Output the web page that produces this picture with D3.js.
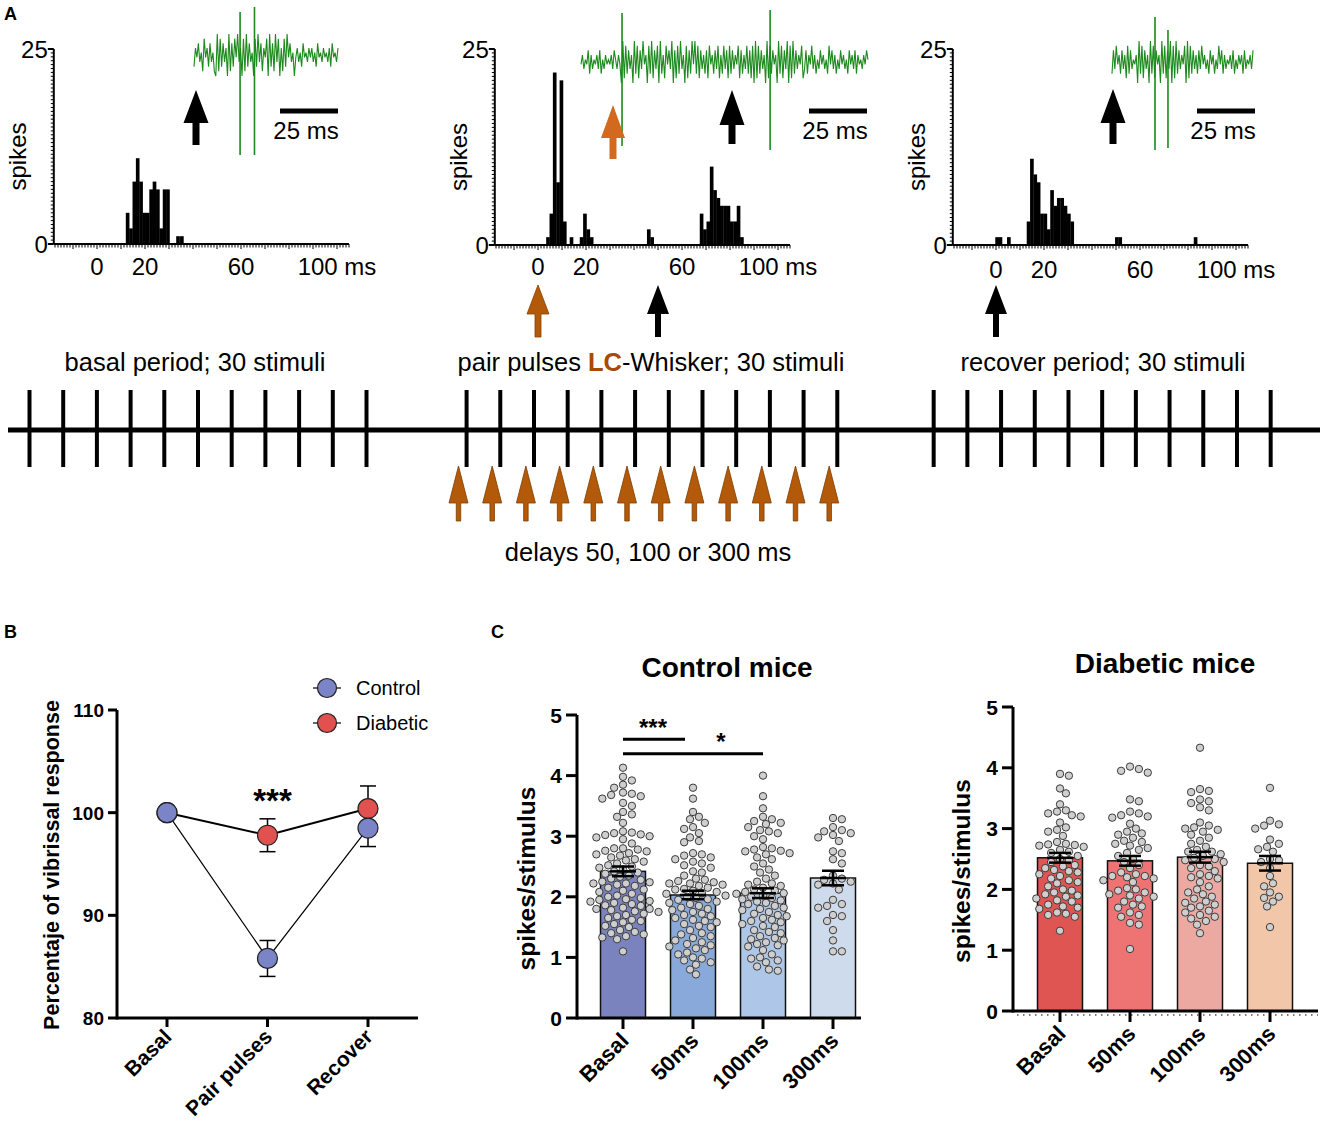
<!DOCTYPE html>
<html><head><meta charset="utf-8">
<script src="https://cdn.jsdelivr.net/npm/d3@7"></script>
<style>body{margin:0;background:#fff}svg{display:block}text{font-family:"Liberation Sans",Arial,sans-serif}</style>
</head><body>
<script>
// ---------------- DATA ----------------
// Panel A: PSTH bins [start ms, count], bin width 1.4 ms
const binWidth = 1.4;
const hist1Bins = [[12.0,4],[13.4,2],[14.8,8],[16.2,11],[17.6,8],[19.0,4],[20.4,4],[21.8,7],[23.2,8],[24.6,7],[26.0,2],[27.4,7],[28.8,7],[33.0,1],[34.6,1]];
const hist2Bins = [[3.4,1],[4.8,4],[6.2,22],[7.6,8],[9.0,21],[10.4,3],[13.2,1],[17.4,1],[18.8,4],[20.2,2],[21.6,1],[45.4,2],[46.8,1],[67.4,4],[68.8,2],[70.2,3],[71.6,10],[73.0,7],[74.4,6],[75.8,5],[77.2,5],[78.6,5],[80.0,3],[81.4,3],[82.8,5],[84.2,1]];
const hist3Bins = [[-0.3,1],[1.1,1],[4.6,1],[12.8,3],[14.2,11],[15.6,9],[17.0,8],[18.4,4],[19.8,4],[21.2,2],[22.6,7],[24.0,5],[25.4,6],[26.8,6],[28.2,5],[29.6,4],[31.0,3],[49.6,1],[51.0,1],[82.4,1]];
const histXTicks = [0, 20, 60, 100];
const histXTickLabels = ["0", "20", "60", "100 ms"];
const histYTicks = [0, 25];
// example raw traces (digit-coded amplitude samples) and spikes [position fraction, up px, down px]
const trace1 = "264735184627351" + "0918273609172849360819273508293716480927193806182947350" + "463527453646352745364536274536";
const trace2 = "4635472635463725364546375364" + "0918273609281739460829173809261847390718293608172949" + "2817362718462738162837182736481726382718" + "09182736091827460928173908192736481" + "372648362537463528473625374635274637264536475";
const trace3 = "273846273618273546" + "0928173609281746092817390819273648091827" + "362738463527462538472635463725364627354637";
const spikes1 = [[0.32,43,100],[0.42,48,100]];
const spikes2 = [[0.143,49,84],[0.659,52,88]];
const spikes3 = [[0.305,45,88],[0.397,32,86]];
const periodLabels = ["basal period; 30 stimuli", "recover period; 30 stimuli"];
const delayLabel = "delays 50, 100 or 300 ms";
// stimulus train groups (slot units)
const stimGroups = [{start:0, n:11}, {start:12.97, n:12}, {start:26.83, n:11}];

// Panel B
const phases = ["Basal", "Pair pulses", "Recover"];
const controlPct = [100, 85.8, 98.5];
const controlErr = [0, 1.75, 1.8];
const diabeticPct = [100, 97.8, 100.4];
const diabeticErr = [0, 1.6, 2.2];
const pctTicks = [80, 90, 100, 110];

// Panel C
const conditions = ["Basal", "50ms", "100ms", "300ms"];
const controlMeans = [2.42, 2.03, 2.06, 2.31];
const controlSem = [0.08, 0.07, 0.08, 0.12];
const diabeticMeans = [2.52, 2.47, 2.53, 2.43];
const diabeticSem = [0.08, 0.08, 0.09, 0.12];
const spsTicks = [0, 1, 2, 3, 4, 5];
const ctrlBasalPts = [4.13,3.98,3.92,3.85,3.80,3.72,3.70,3.68,3.66,3.62,3.55,3.50,3.40,3.36,3.32,3.22,3.08,3.06,3.05,3.03,3.02,3.00,2.98,2.95,2.88,2.80,2.80,2.78,2.76,2.75,2.72,2.70,2.68,2.65,2.60,2.55,2.52,2.50,2.45,2.40,2.38,2.35,2.30,2.28,2.25,2.24,2.22,2.22,2.20,2.18,2.15,2.12,2.10,2.08,2.05,2.02,2.00,1.98,1.96,1.95,1.92,1.90,1.88,1.86,1.85,1.82,1.80,1.80,1.78,1.75,1.72,1.70,1.68,1.65,1.62,1.60,1.58,1.55,1.52,1.50,1.45,1.42,1.40,1.38,1.35,1.33,1.30,1.10,2.62,2.58,2.48,2.42,2.33,1.93,1.76];
const ctrl50Pts = [3.80,3.62,3.40,3.32,3.28,3.22,3.15,3.12,3.05,2.98,2.92,2.90,2.72,2.70,2.68,2.65,2.62,2.58,2.52,2.48,2.42,2.35,2.30,2.28,2.26,2.24,2.22,2.22,2.20,2.18,2.15,2.13,2.12,2.10,2.08,2.06,2.05,2.02,2.00,1.98,1.96,1.92,1.90,1.88,1.85,1.82,1.80,1.78,1.75,1.72,1.70,1.68,1.65,1.62,1.60,1.58,1.55,1.50,1.45,1.40,1.35,1.32,1.28,1.25,1.22,1.20,1.18,1.12,1.08,1.05,1.00,0.95,0.92,0.88,0.80,0.72,2.55,2.40,1.95,1.52,1.38,1.15,0.98];
const ctrl100Pts = [4.00,3.66,3.46,3.32,3.28,3.25,3.22,3.20,3.15,3.10,3.08,3.05,3.00,2.95,2.82,2.80,2.78,2.76,2.75,2.72,2.70,2.62,2.55,2.50,2.45,2.35,2.30,2.25,2.22,2.20,2.18,2.15,2.12,2.10,2.08,2.06,2.05,2.02,2.00,1.98,1.96,1.94,1.92,1.88,1.85,1.82,1.80,1.78,1.75,1.72,1.70,1.65,1.62,1.60,1.58,1.55,1.52,1.50,1.45,1.40,1.35,1.32,1.30,1.28,1.22,1.20,1.18,1.12,1.05,1.00,0.98,0.95,0.92,0.85,0.80,0.78,2.65,2.40,1.90,1.68,1.42,1.25];
const ctrl300Pts = [3.30,3.28,3.15,3.10,3.08,3.05,3.02,2.98,2.92,2.75,2.72,2.62,2.55,2.35,2.30,2.28,2.22,2.20,2.12,1.95,1.88,1.85,1.82,1.70,1.68,1.60,1.45,1.28,1.10,1.10,2.25];
const diabBasalPts = [3.90,3.87,3.66,3.58,3.40,3.30,3.28,3.25,3.22,3.20,3.10,3.02,2.98,2.95,2.88,2.78,2.75,2.74,2.73,2.72,2.70,2.65,2.62,2.55,2.50,2.45,2.40,2.38,2.35,2.32,2.28,2.25,2.22,2.18,2.15,2.10,2.05,2.00,1.98,1.95,1.92,1.88,1.85,1.82,1.80,1.75,1.72,1.68,1.62,1.60,1.58,1.55,1.32,2.60,2.48,2.30,2.12,1.90,1.70];
const diab50Pts = [4.02,3.98,3.95,3.92,3.48,3.45,3.28,3.25,3.22,3.20,3.18,3.08,3.00,2.95,2.92,2.90,2.85,2.80,2.78,2.75,2.72,2.68,2.65,2.60,2.55,2.50,2.45,2.40,2.28,2.25,2.22,2.22,2.20,2.18,2.15,2.02,2.00,1.98,1.95,1.92,1.90,1.88,1.85,1.80,1.75,1.72,1.70,1.58,1.55,1.45,1.42,1.02,2.35,2.12,1.62];
const diab100Pts = [4.33,3.65,3.62,3.60,3.48,3.45,3.42,3.35,3.30,3.10,3.05,3.02,3.00,2.98,2.95,2.90,2.85,2.80,2.75,2.70,2.65,2.62,2.58,2.55,2.52,2.50,2.48,2.45,2.40,2.35,2.30,2.25,2.22,2.20,2.18,2.12,2.05,2.00,1.95,1.92,1.85,1.80,1.78,1.75,1.72,1.70,1.65,1.58,1.55,1.52,1.48,1.42,1.28,2.62,2.38,1.88,1.62];
const diab300Pts = [3.67,3.13,3.07,3.05,3.00,2.82,2.75,2.70,2.66,2.62,2.50,2.48,2.45,2.35,2.22,2.10,2.05,1.95,1.88,1.86,1.80,1.72,1.38];

// ---------------- DRAW ----------------
const W = 1325, H = 1130;
const svg = d3.select("body").append("svg").attr("width", W).attr("height", H);
const AF = 24; // panel A font size

function arrowPath(cx, top, hb, bottom, hw, sw) {
  return `M${cx},${top}L${cx+hw/2},${hb}L${cx+sw/2},${hb}L${cx+sw/2},${bottom}L${cx-sw/2},${bottom}L${cx-sw/2},${hb}L${cx-hw/2},${hb}Z`;
}

// panel letters
[["A",4,20],["B",4,638],["C",491,638]].forEach(([t,x,y]) =>
  svg.append("text").attr("x",x).attr("y",y).attr("font-size",18).attr("font-weight","bold").text(t));

// ---- Histograms ----
function drawHist(cfg) {
  const g = svg.append("g");
  const x = d3.scaleLinear().domain([-18, 105]).range([cfg.axisX, cfg.axisX + 2.4*123]);
  const y = d3.scaleLinear().domain([0, 25]).range([cfg.y0, cfg.y25]);
  g.selectAll("rect.bar").data(cfg.bins).join("rect")
    .attr("x", d => x(d[0])).attr("width", x(binWidth) - x(0) + 0.3)
    .attr("y", d => y(d[1])).attr("height", d => y(0) - y(d[1])).attr("fill", "#000");
  g.append("line").attr("x1", x(-18)).attr("x2", x(105)).attr("y1", y(0)).attr("y2", y(0)).attr("stroke","#000").attr("stroke-width",2);
  const minor = d3.range(-17.5, 105.01, 1.25);
  g.selectAll("line.xt").data(minor).join("line")
    .attr("x1", d => x(d)).attr("x2", d => x(d)).attr("y1", y(0)).attr("y2", d => y(0) + (Math.abs(d % 10) < 0.01 ? 5 : 3.5))
    .attr("stroke","#000").attr("stroke-width",1);
  g.selectAll("text.xl").data(histXTicks).join("text")
    .attr("x", d => x(d)).attr("y", cfg.y0 + cfg.labOff).attr("text-anchor","middle").attr("font-size",AF)
    .text((d,i) => histXTickLabels[i]);
  g.append("line").attr("x1", cfg.axisX).attr("x2", cfg.axisX).attr("y1", y(0)).attr("y2", y(25)).attr("stroke","#000").attr("stroke-width",2);
  const yminor = d3.range(0, 25.01, 0.5);
  g.selectAll("line.yt").data(yminor).join("line")
    .attr("x1", cfg.axisX).attr("x2", d => cfg.axisX - (d===0||d===25 ? 6 : 3)).attr("y1", d => y(d)).attr("y2", d => y(d))
    .attr("stroke","#000").attr("stroke-width", d => (d===0||d===25) ? 2 : 1);
  g.selectAll("text.yl").data(histYTicks).join("text")
    .attr("x", cfg.axisX - 6).attr("y", d => y(d) + 8.5).attr("text-anchor","end").attr("font-size",AF).text(d => d);
  g.append("text").attr("transform", `translate(${cfg.axisX - 28},${(y(0)+y(25))/2 + 10}) rotate(-90)`)
    .attr("text-anchor","middle").attr("font-size",AF).text("spikes");
  // trace
  const vals = cfg.trace.split("").map(Number);
  const tx = d3.scaleLinear().domain([0, vals.length - 1]).range([cfg.trX0, cfg.trX1]);
  const ty = d3.scaleLinear().domain([0, 9]).range([cfg.trY + 21, cfg.trY - 21]);
  g.append("path").attr("d", d3.line().x((d,i) => tx(i)).y(d => ty(d))(vals))
    .attr("fill","none").attr("stroke","#1c8a1c").attr("stroke-width",1.1);
  const fx = d3.scaleLinear().domain([0,1]).range([cfg.trX0, cfg.trX1]);
  g.selectAll("line.sp").data(cfg.spikes).join("line")
    .attr("x1", d => fx(d[0])).attr("x2", d => fx(d[0])).attr("y1", d => cfg.trY - d[1]).attr("y2", d => cfg.trY + d[2])
    .attr("stroke","#1c8a1c").attr("stroke-width",1.6);
  // scale bar
  g.append("rect").attr("x", cfg.sbX).attr("y", 108.5).attr("width", 58).attr("height", 5).attr("fill","#000");
  g.append("text").attr("x", cfg.sbX + 26).attr("y", 139).attr("text-anchor","middle").attr("font-size",AF).text("25 ms");
  return x;
}

const hx1 = drawHist({bins: hist1Bins, axisX: 53.8, y0: 244, y25: 49, labOff: 31, trace: trace1, spikes: spikes1, trX0: 194, trX1: 338, trY: 55, sbX: 280});
const hx2 = drawHist({bins: hist2Bins, axisX: 494.8, y0: 245, y25: 49, labOff: 30, trace: trace2, spikes: spikes2, trX0: 581, trX1: 868, trY: 62, sbX: 809});
const hx3 = drawHist({bins: hist3Bins, axisX: 952.8, y0: 245, y25: 49, labOff: 33, trace: trace3, spikes: spikes3, trX0: 1112, trX1: 1253, trY: 62, sbX: 1197});

svg.append("path").attr("d", arrowPath(196, 90, 123, 145, 25, 7)).attr("fill","#000");
svg.append("path").attr("d", arrowPath(613, 105, 138, 159, 24, 7)).attr("fill","#d2691e");
svg.append("path").attr("d", arrowPath(732, 90, 125, 144, 25, 7)).attr("fill","#000");
svg.append("path").attr("d", arrowPath(1113, 89, 123, 144, 25, 7)).attr("fill","#000");
svg.append("path").attr("d", arrowPath(hx2(0), 285, 314, 337, 22, 6)).attr("fill","#b35a0a").attr("stroke","#8a4000").attr("stroke-width",0.8);
svg.append("path").attr("d", arrowPath(hx2(50), 285, 314, 337, 22, 6)).attr("fill","#000");
svg.append("path").attr("d", arrowPath(hx3(0), 285, 314, 337, 22, 6)).attr("fill","#000");

// ---- Timeline ----
const TF = 25.5;
const tl = d3.scaleLinear().domain([0, 1]).range([29.5, 63.2]);
svg.append("text").attr("x", 195).attr("y", 371).attr("text-anchor","middle").attr("font-size",TF).text(periodLabels[0]);
const mid = svg.append("text").attr("x", 651).attr("y", 371).attr("text-anchor","middle").attr("font-size",TF);
mid.append("tspan").text("pair pulses ");
mid.append("tspan").attr("font-weight","bold").attr("fill","#a84a08").text("LC");
mid.append("tspan").text("-Whisker; 30 stimuli");
svg.append("text").attr("x", 1103).attr("y", 371).attr("text-anchor","middle").attr("font-size",TF).text(periodLabels[1]);
svg.append("line").attr("x1", 8).attr("x2", 1320).attr("y1", 430).attr("y2", 430).attr("stroke","#000").attr("stroke-width",5);
stimGroups.forEach((grp, gi) => {
  const slots = d3.range(grp.n).map(i => grp.start + i);
  svg.selectAll(null).data(slots).join("line")
    .attr("x1", d => tl(d)).attr("x2", d => tl(d)).attr("y1", 390).attr("y2", 467)
    .attr("stroke","#000").attr("stroke-width",4);
  if (gi === 1) {
    svg.selectAll(null).data(slots).join("path")
      .attr("d", d => arrowPath(tl(d - 0.24), 466, 503, 521, 19, 4.5))
      .attr("fill","#b35a0a").attr("stroke","#7d3c00").attr("stroke-width",0.8);
  }
});
svg.append("text").attr("x", 648).attr("y", 561).attr("text-anchor","middle").attr("font-size",TF).text(delayLabel);

// ---- Panel B ----
(function(){
  const g = svg.append("g");
  const x = d3.scalePoint().domain(phases).range([167, 368]);
  const y = d3.scaleLinear().domain([80, 110]).range([1018, 710]);
  g.append("line").attr("x1",117).attr("x2",117).attr("y1",y(110)).attr("y2",y(80)+1.5).attr("stroke","#000").attr("stroke-width",3);
  g.append("line").attr("x1",117).attr("x2",418).attr("y1",y(80)).attr("y2",y(80)).attr("stroke","#000").attr("stroke-width",3);
  g.selectAll("line.yt").data(pctTicks).join("line").attr("x1",108).attr("x2",117).attr("y1",d=>y(d)).attr("y2",d=>y(d)).attr("stroke","#000").attr("stroke-width",3);
  g.selectAll("text.yl").data(pctTicks).join("text").attr("x",104).attr("y",d=>y(d)+7).attr("text-anchor","end")
    .attr("font-size",19).attr("font-weight","bold").text(d=>d);
  g.selectAll("line.xt").data(phases).join("line").attr("x1",d=>x(d)).attr("x2",d=>x(d)).attr("y1",y(80)).attr("y2",y(80)+9).attr("stroke","#000").attr("stroke-width",3);
  g.selectAll("text.xl").data(phases).join("text")
    .attr("transform", d => `translate(${x(d)+6},${y(80)+20}) rotate(-45)`)
    .attr("text-anchor","end").attr("font-size",21).attr("font-weight","bold").text(d=>d);
  g.append("text").attr("transform", `translate(59,865) rotate(-90)`).attr("text-anchor","middle")
    .attr("font-size",21.5).attr("font-weight","bold").text("Percentaje of vibrissal response");
  const series = [
    {vals: controlPct, err: controlErr, col: "#7b84c6", lw: 1.2},
    {vals: diabeticPct, err: diabeticErr, col: "#e0514f", lw: 2}
  ];
  series.forEach(s => {
    s.vals.forEach((v, i) => {
      if (!s.err[i]) return;
      const cx = x(phases[i]);
      g.append("line").attr("x1",cx).attr("x2",cx).attr("y1",y(v - s.err[i])).attr("y2",y(v + s.err[i])).attr("stroke","#000").attr("stroke-width",1.5);
      [v - s.err[i], v + s.err[i]].forEach(e => g.append("line").attr("x1",cx-8).attr("x2",cx+8).attr("y1",y(e)).attr("y2",y(e)).attr("stroke","#000").attr("stroke-width",1.5));
    });
  });
  series.forEach(s => {
    g.append("path").attr("d", d3.line().x((d,i)=>x(phases[i])).y(d=>y(d))(s.vals)).attr("fill","none").attr("stroke","#000").attr("stroke-width",s.lw);
  });
  [series[1], series[0]].forEach(s => {
    g.selectAll(null).data(s.vals).join("circle").attr("cx",(d,i)=>x(phases[i])).attr("cy",d=>y(d)).attr("r",10)
      .attr("fill",s.col).attr("stroke","#222").attr("stroke-width",1.2);
  });
  g.append("text").attr("x", x("Pair pulses")+5).attr("y", 812).attr("text-anchor","middle").attr("font-size",33).attr("font-weight","bold").text("***");
  [["Control",688,series[0].col],["Diabetic",723,series[1].col]].forEach(([t,ly,c]) => {
    g.append("line").attr("x1",313).attr("x2",341).attr("y1",ly).attr("y2",ly).attr("stroke","#000").attr("stroke-width",1.2);
    g.append("circle").attr("cx",327).attr("cy",ly).attr("r",9.5).attr("fill",c).attr("stroke","#222").attr("stroke-width",1.2);
    g.append("text").attr("x",356).attr("y",ly+7).attr("font-size",20).text(t);
  });
})();

// ---- Panel C ----
function swarm(values, cx, yScale, r) {
  const pts = values.map(v => ({v, y: yScale(v)})).sort((a,b) => a.y - b.y);
  const placed = [];
  const step = r * 0.8;
  pts.forEach(p => {
    for (let k = 0; k < 200; k++) {
      const off = k === 0 ? 0 : Math.ceil(k/2) * step * (k % 2 ? 1 : -1);
      if (placed.every(q => (q.dx - off)**2 + (q.y - p.y)**2 >= (2*r)**2)) { p.dx = off; break; }
    }
    placed.push(p);
  });
  return pts.map(p => ({x: cx + p.dx, y: p.y}));
}

function drawBarPanel(cfg) {
  const g = svg.append("g");
  const x = d3.scalePoint().domain(conditions).range([cfg.x0, cfg.x3]);
  const y = d3.scaleLinear().domain([0,5]).range([cfg.yb, cfg.yt]);
  const bw = 45;
  g.selectAll("rect").data(cfg.means).join("rect")
    .attr("x",(d,i)=>x(conditions[i])-bw/2).attr("width",bw).attr("y",d=>y(d)).attr("height",d=>y(0)-y(d))
    .attr("fill",(d,i)=>cfg.colors[i]).attr("stroke","#111").attr("stroke-width",1.5);
  cfg.pts.forEach((arr,i) => {
    const s = swarm(arr, x(conditions[i]), y, 3.7);
    g.selectAll(null).data(s).join("circle").attr("cx",d=>d.x).attr("cy",d=>d.y).attr("r",3.7)
      .attr("fill","#cfcfcf").attr("stroke","#3a3a3a").attr("stroke-width",1);
  });
  cfg.means.forEach((m,i) => {
    const cx = x(conditions[i]); const e = cfg.sem[i];
    g.append("line").attr("x1",cx).attr("x2",cx).attr("y1",y(m-e)).attr("y2",y(m+e)).attr("stroke","#000").attr("stroke-width",2.5);
    [m-e, m, m+e].forEach(v => g.append("line").attr("x1",cx-(v===m?13:11)).attr("x2",cx+(v===m?13:11)).attr("y1",y(v)).attr("y2",y(v)).attr("stroke","#000").attr("stroke-width",2.5));
  });
  g.append("line").attr("x1",cfg.ax).attr("x2",cfg.ax).attr("y1",y(5)).attr("y2",y(0)+1.5).attr("stroke","#000").attr("stroke-width",3);
  g.append("line").attr("x1",cfg.ax).attr("x2",cfg.axEnd).attr("y1",y(0)).attr("y2",y(0)).attr("stroke","#000").attr("stroke-width",3);
  if (cfg.dotted) g.append("line").attr("x1",cfg.ax+4).attr("x2",cfg.axEnd).attr("y1",y(0)+4).attr("y2",y(0)+4).attr("stroke","#000").attr("stroke-width",1.2).attr("stroke-dasharray","1.5,4.5");
  g.selectAll("line.yt").data(spsTicks).join("line").attr("x1",cfg.ax-11).attr("x2",cfg.ax).attr("y1",d=>y(d)).attr("y2",d=>y(d)).attr("stroke","#000").attr("stroke-width",3);
  g.selectAll("text.yl").data(spsTicks).join("text").attr("x",cfg.ax-15).attr("y",d=>y(d)+7.5).attr("text-anchor","end")
    .attr("font-size",21).attr("font-weight","bold").text(d=>d);
  g.selectAll("line.xt").data(conditions).join("line").attr("x1",d=>x(d)).attr("x2",d=>x(d)).attr("y1",y(0)).attr("y2",y(0)+11).attr("stroke","#000").attr("stroke-width",3);
  g.selectAll("text.xl").data(conditions).join("text")
    .attr("transform", d => `translate(${x(d)+7},${y(0)+24}) rotate(-45)`)
    .attr("text-anchor","end").attr("font-size",22).attr("font-weight","bold").text(d=>d);
  g.append("text").attr("transform", `translate(${cfg.ylabX},${(y(0)+y(5))/2+12}) rotate(-90)`).attr("text-anchor","middle")
    .attr("font-size",24.5).attr("font-weight","bold").text("spikes/stimulus");
  g.append("text").attr("x",cfg.titleX).attr("y",cfg.titleY).attr("text-anchor","middle").attr("font-size",28).attr("font-weight","bold").text(cfg.title);
  return {x, y, g};
}

const ctrl = drawBarPanel({x0: 623, x3: 833, yb: 1018, yt: 715, ax: 577, axEnd: 861, means: controlMeans, sem: controlSem,
  colors: ["#7a83bd","#8aa9db","#aec6e8","#cddbec"], pts: [ctrlBasalPts, ctrl50Pts, ctrl100Pts, ctrl300Pts],
  ylabX: 535, title: "Control mice", titleX: 727, titleY: 677});
ctrl.g.append("line").attr("x1",ctrl.x("Basal")).attr("x2",685).attr("y1",ctrl.y(4.6)).attr("y2",ctrl.y(4.6)).attr("stroke","#000").attr("stroke-width",3);
ctrl.g.append("line").attr("x1",ctrl.x("Basal")).attr("x2",ctrl.x("100ms")).attr("y1",ctrl.y(4.36)).attr("y2",ctrl.y(4.36)).attr("stroke","#000").attr("stroke-width",3);
ctrl.g.append("text").attr("x",653).attr("y",736).attr("text-anchor","middle").attr("font-size",24).attr("font-weight","bold").text("***");
ctrl.g.append("text").attr("x",721).attr("y",750).attr("text-anchor","middle").attr("font-size",24).attr("font-weight","bold").text("*");

drawBarPanel({x0: 1060, x3: 1270, yb: 1011, yt: 707, ax: 1013, axEnd: 1318, means: diabeticMeans, sem: diabeticSem,
  colors: ["#de5552","#ee7474","#eca9a1","#f2c7a9"], pts: [diabBasalPts, diab50Pts, diab100Pts, diab300Pts],
  ylabX: 970, title: "Diabetic mice", titleX: 1165, titleY: 673, dotted: true});
</script>
</body></html>
